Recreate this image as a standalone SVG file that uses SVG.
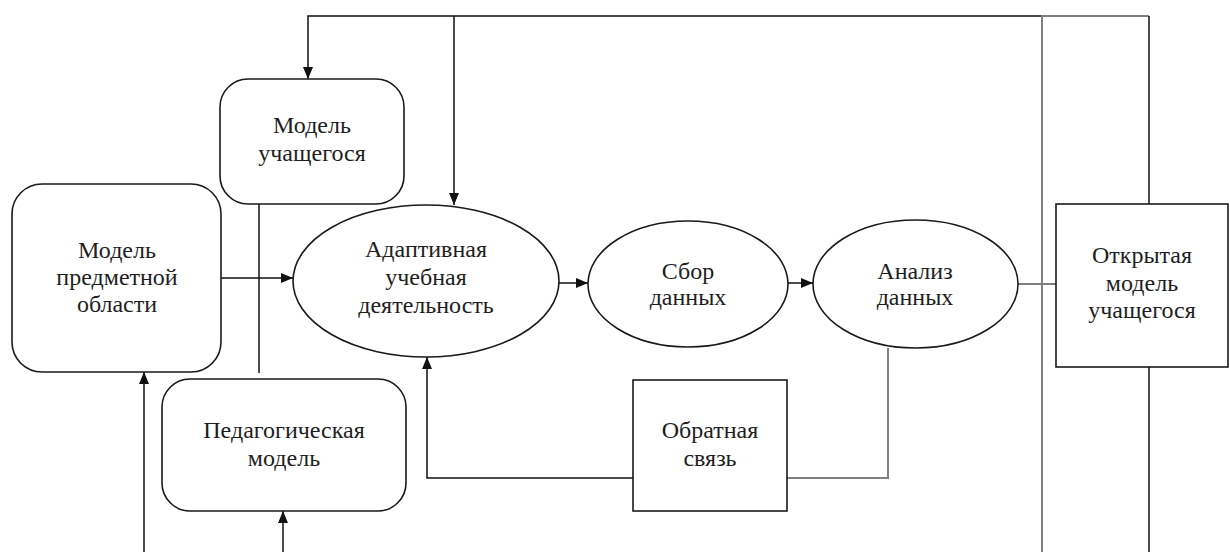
<svg xmlns="http://www.w3.org/2000/svg" width="1230" height="552" viewBox="0 0 1230 552" font-family="'Liberation Serif', 'Times New Roman', serif">
<style>
.shape{fill:#fff;stroke:#1a1a1a;stroke-width:1.6}
.ln{fill:none;stroke:#111;stroke-width:1.5}
.gl{fill:none;stroke:#808080;stroke-width:2}
.t{font-family:'Liberation Serif','Times New Roman',serif;font-size:24px;fill:#1e1e1e;text-anchor:middle}
</style>
<defs>
<marker id="ah" viewBox="0 0 12 10" refX="12" refY="5" markerWidth="12" markerHeight="10" markerUnits="userSpaceOnUse" orient="auto">
<path d="M0,0 L12,5 L0,10 Z" fill="#111"/>
</marker>
</defs>
<rect width="1230" height="552" fill="#fff"/>
<g id="connectors">
<path class="ln" d="M1042,16 H308 V79" marker-end="url(#ah)"/>
<path class="ln" d="M454,16 V205" marker-end="url(#ah)"/>
<path class="gl" d="M1042,552 V16 H1149"/>
<path class="ln" d="M1149,16 V204"/>
<path class="ln" d="M1149,367 V552"/>
<path class="ln" d="M221,278 H293" marker-end="url(#ah)"/>
<path class="ln" d="M259,204 V373"/>
<path class="ln" d="M144,552 V372" marker-end="url(#ah)"/>
<path class="ln" d="M283,552 V511" marker-end="url(#ah)"/>
<path class="ln" d="M559,283 H588" marker-end="url(#ah)"/>
<path class="ln" d="M788,283 H813" marker-end="url(#ah)"/>
<path class="gl" d="M1018,284 H1056"/>
<path class="gl" d="M888,348 V478 H787"/>
<path class="ln" d="M633,478 H427 V357" marker-end="url(#ah)"/>
</g>
<g id="n-model-uch">
<rect class="shape" x="220" y="79" width="184" height="125" rx="28"/>
<text class="t" x="312" y="133">Модель</text>
<text class="t" x="312" y="161">учащегося</text>
</g>
<g id="n-predmet">
<rect class="shape" x="12" y="184" width="209" height="188" rx="30"/>
<text class="t" x="117" y="258">Модель</text>
<text class="t" x="117" y="285">предметной</text>
<text class="t" x="117" y="312">области</text>
</g>
<g id="n-adapt">
<ellipse class="shape" cx="426" cy="281" rx="133" ry="76"/>
<text class="t" x="426" y="257">Адаптивная</text>
<text class="t" x="426" y="285">учебная</text>
<text class="t" x="426" y="313">деятельность</text>
</g>
<g id="n-sbor">
<ellipse class="shape" cx="688" cy="284" rx="100" ry="63"/>
<text class="t" x="688" y="279">Сбор</text>
<text class="t" x="688" y="305">данных</text>
</g>
<g id="n-analiz">
<ellipse class="shape" cx="915.5" cy="284" rx="102.5" ry="64"/>
<text class="t" x="915" y="279">Анализ</text>
<text class="t" x="915" y="305">данных</text>
</g>
<g id="n-open">
<rect class="shape" x="1056" y="204" width="172" height="163"/>
<text class="t" x="1142" y="263">Открытая</text>
<text class="t" x="1142" y="291">модель</text>
<text class="t" x="1142" y="318">учащегося</text>
</g>
<g id="n-ped">
<rect class="shape" x="162" y="379" width="244" height="132" rx="28"/>
<text class="t" x="284" y="438">Педагогическая</text>
<text class="t" x="284" y="466">модель</text>
</g>
<g id="n-feedback">
<rect class="shape" x="633" y="380" width="154" height="131"/>
<text class="t" x="710" y="438">Обратная</text>
<text class="t" x="710" y="466">связь</text>
</g>
</svg>
